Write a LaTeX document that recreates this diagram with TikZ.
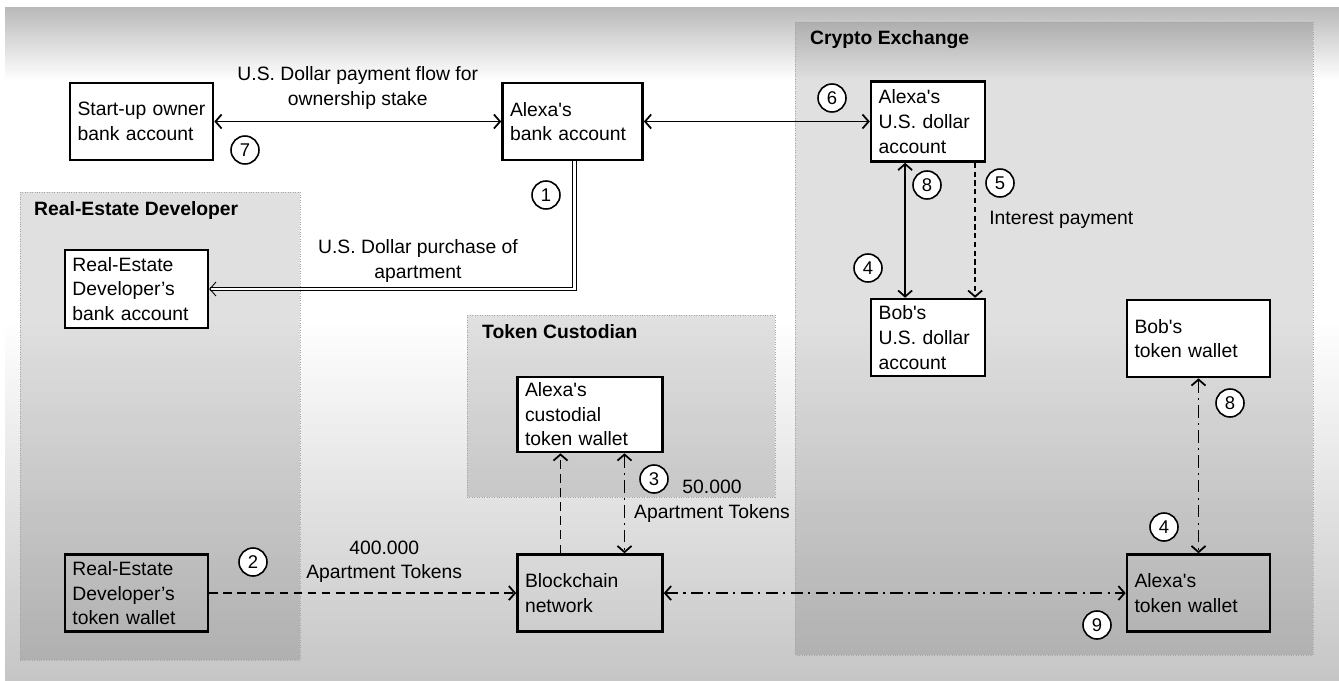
\documentclass[tikz,border=0pt]{standalone}
\usepackage{fontspec}
\setmainfont{Liberation Sans}
\usetikzlibrary{arrows.meta,positioning}
\tikzstyle{acct} = [draw,line width=1.5pt,fill=white,rectangle,align=left,inner xsep=0.15cm,inner ysep=2pt,text width=2.56cm,minimum height=1.54cm]
\tikzstyle{bare} = [acct,fill=none]
\tikzstyle{num} = [draw,circle,fill=white,line width=0.9pt,inner sep=0,minimum size=0.56cm,font=\fontsize{10.5}{12}\selectfont]
\tikzstyle{flow} = [line width=1pt,>={Straight Barb[length=3.5pt,width=8pt]}]
\tikzstyle{group} = [draw=gray!70,densely dotted,fill=black,fill opacity=0.12,line width=0.4pt]
\tikzstyle{title} = [anchor=west,font=\fontsize{11}{14}\selectfont\bfseries]
\tikzstyle{dashdot} = [dash pattern=on 7pt off 3pt on 1.2pt off 3pt]

\begin{document}
\begin{tikzpicture}[x=0.02cm,y=-0.02cm,node distance=1cm,every node/.style={font=\fontsize{11}{14}\selectfont}]
      % background
      \fill[white] (0,0) rectangle (1339,680);
      \shade[top color=gray!55,bottom color=white] (5,7) rectangle (1339,80);
      \shade[top color=white,bottom color=gray!45] (5,320) rectangle (1339,680);
      \useasboundingbox (0,0) rectangle (1339,680);
      % groups
      \draw[group] (20,192) rectangle (300,660);
      \node[title] (redlbl) at (28,210) {Real-Estate Developer};
      \draw[group] (467,315) rectangle (775,497);
      \node[title] (custlbl) at (476,332) {Token Custodian};
      \draw[group] (795,22) rectangle (1313,655);
      \node[title] (cxlbl) at (804,40) {Crypto Exchange};
      % accounts and wallets
      \node[acct] (start) at (141.5,121.5) {Start-up owner\\bank account};
      \node[acct,text width=2.5cm,right=5.74cm of start] (abank) {Alexa\textquotesingle s\\bank account};
      \node[acct,text width=1.98cm,minimum height=1.6cm,right=4.52cm of abank] (ausd) {Alexa\textquotesingle s\\U.S. dollar\\account};
      \node[acct,text width=1.98cm,below=2.7cm of ausd] (busd) {Bob\textquotesingle s\\U.S. dollar\\account};
      \node[acct] (btok) at (1198.5,338.5) {Bob\textquotesingle s\\token wallet};
      \node[bare,below=3.5cm of btok] (atok) {Alexa\textquotesingle s\\token wallet};
      \node[bare,text width=2.6cm,left=9.24cm of atok] (chain) {Blockchain\\network};
      \node[acct,text width=2.6cm,minimum height=1.5cm,above=2cm of chain] (cust) {Alexa\textquotesingle s\\custodial\\token wallet};
      \node[bare,left=6.14cm of chain] (rdtok) {Real-Estate\\Developer’s\\token wallet};
      \node[acct,minimum height=1.56cm,above=4.48cm of rdtok] (rdbank) {Real-Estate\\Developer’s\\bank account};
      % flows
      \draw[flow,<->] (start) -- (abank) node[midway,above=3pt,align=center] (paylbl) {U.S. Dollar payment flow for\\ownership stake};
      \draw[flow,<->] (abank) -- (ausd);
      \draw[flow,double,double distance=1.5pt,line width=0.5pt,->] ([xshift=0.04cm]abank.south) |- (rdbank.east);
      \node[align=center] (buylbl) at (418,261) {U.S. Dollar purchase of\\apartment};
      \draw[flow,<->] ([xshift=-0.46cm]ausd.south) -- ([xshift=-0.46cm]busd.north);
      \draw[flow,->,dash pattern=on 3pt off 2pt] ([xshift=0.94cm]ausd.south) -- ([xshift=0.94cm]busd.north) node[pos=0.42,right=0.15cm] (intlbl) {Interest payment};
      \draw[flow,<->,dashdot] (btok) -- (atok);
      \draw[flow,<->,dashdot] (chain) -- (atok);
      \draw[flow,->,dash pattern=on 5pt off 3pt] (rdtok) -- (chain) node[pos=0.57,above=2pt,align=center] (tok400) {400.000\\Apartment Tokens};
      \draw[flow,->,dash pattern=on 5pt off 3pt] ([xshift=-0.59cm]chain.north) -- ([xshift=-0.59cm]cust.south);
      \draw[flow,<->,dashdot] ([xshift=0.69cm]cust.south) -- ([xshift=0.69cm]chain.north);
      \node[align=center] (tok50) at (712,501) {50.000\\Apartment Tokens};
      % step numbers
      \node[num] (n1) at (546,195) {1};
      \node[num] (n2) at (253,562) {2};
      \node[num] (n3) at (654,479) {3};
      \node[num] (n4a) at (868,268) {4};
      \node[num] (n4b) at (1164,527) {4};
      \node[num] (n5) at (1000,183) {5};
      \node[num] (n6) at (832,98) {6};
      \node[num] (n7) at (245,150) {7};
      \node[num] (n8a) at (927,185) {8};
      \node[num] (n8b) at (1230,403) {8};
      \node[num] (n9) at (1097,625) {9};
    \end{tikzpicture}
\end{document}
